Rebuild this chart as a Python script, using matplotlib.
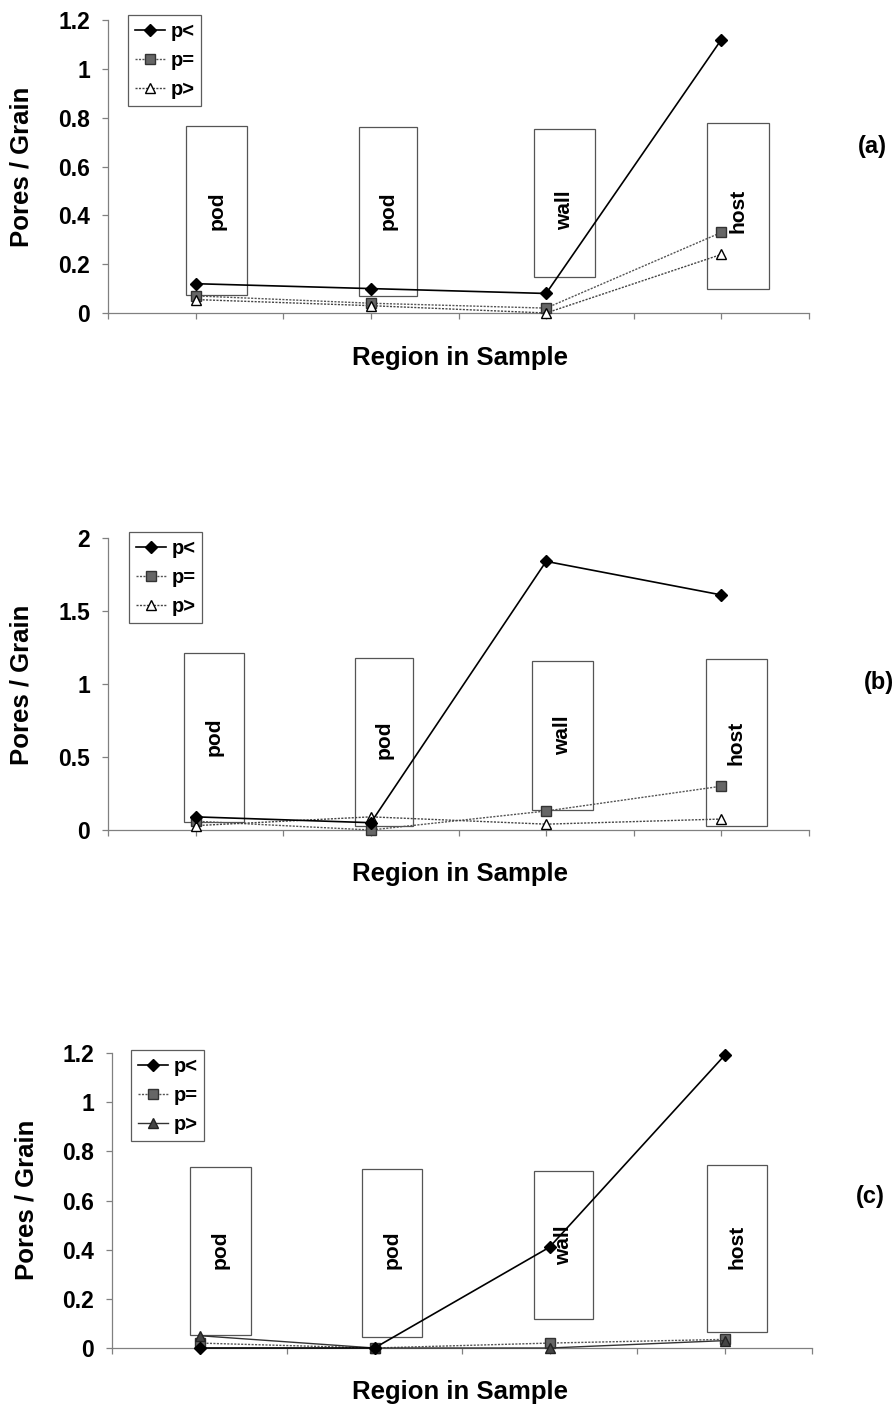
import matplotlib
matplotlib.use("Agg")
import matplotlib.pyplot as plt
from matplotlib.patches import Rectangle

plt.rcParams['font.family'] = ['Liberation Sans', 'DejaVu Sans']
plt.rcParams['font.weight'] = 'bold'

# ---- data ----
regions = ["pod", "pod", "wall", "host"]
series_labels = ["p<", "p=", "p>"]

a_lt = [0.12, 0.10, 0.08, 1.12]
a_eq = [0.07, 0.04, 0.02, 0.33]
a_gt = [0.055, 0.03, 0.0, 0.24]

b_lt = [0.09, 0.05, 1.84, 1.61]
b_eq = [0.06, 0.0, 0.13, 0.30]
b_gt = [0.03, 0.09, 0.04, 0.075]

c_lt = [0.0, 0.0, 0.41, 1.19]
c_eq = [0.02, 0.0, 0.02, 0.035]
c_gt = [0.05, 0.0, 0.0, 0.03]

a_ticks = [0, 0.2, 0.4, 0.6, 0.8, 1.0, 1.2]
a_ticklabels = ["0", "0.2", "0.4", "0.6", "0.8", "1", "1.2"]
b_ticks = [0, 0.5, 1.0, 1.5, 2.0]
b_ticklabels = ["0", "0.5", "1", "1.5", "2"]

# ---- layout / styling ----
W, H = 893, 1409
fig = plt.figure(figsize=(W / 100, H / 100), dpi=100)

def fx(px):
    return px / W

def fy(py):
    return 1 - py / H

panels = [
    dict(rect=(108, 20, 809, 313), data=(a_lt, a_eq, a_gt), ylim=1.2,
         ticks=a_ticks, tl=a_ticklabels, tag="(a)", tagpos=(872, 147),
         ylab=(22, 167), xlab=(460, 358), leg=(128, 15),
         boxes=[(0.446, 0.794, 0.074, 0.766), (1.43, 1.766, 0.07, 0.76),
                (2.43, 2.78, 0.148, 0.754), (3.42, 3.77, 0.098, 0.78)],
         texty=[0.42, 0.42, 0.42, 0.42], gt_open=True),
    dict(rect=(108, 538, 809, 830), data=(b_lt, b_eq, b_gt), ylim=2.0,
         ticks=b_ticks, tl=b_ticklabels, tag="(b)", tagpos=(879, 682),
         ylab=(22, 685), xlab=(460, 874), leg=(129, 532),
         boxes=[(0.434, 0.777, 0.055, 1.21), (1.41, 1.74, 0.03, 1.18),
                (2.42, 2.77, 0.14, 1.16), (3.41, 3.76, 0.03, 1.17)],
         texty=[0.64, 0.62, 0.65, 0.6], gt_open=True),
    dict(rect=(112, 1053, 812, 1348), data=(c_lt, c_eq, c_gt), ylim=1.2,
         ticks=a_ticks, tl=a_ticklabels, tag="(c)", tagpos=(870, 1197),
         ylab=(27, 1200), xlab=(460, 1392), leg=(131, 1050),
         boxes=[(0.446, 0.794, 0.053, 0.736), (1.43, 1.77, 0.045, 0.73),
                (2.41, 2.75, 0.118, 0.72), (3.40, 3.74, 0.065, 0.744)],
         texty=[0.40, 0.40, 0.42, 0.41], gt_open=False),
]

xpos = [0.5, 1.5, 2.5, 3.5]
spine_col = '#808080'

for p in panels:
    l, t, r, b = p['rect']
    ax = fig.add_axes([fx(l), fy(b), fx(r) - fx(l), fy(t) - fy(b)])
    ax.set_xlim(0, 4)
    ax.set_ylim(0, p['ylim'])
    for s in ['top', 'right']:
        ax.spines[s].set_visible(False)
    for s in ['left', 'bottom']:
        ax.spines[s].set_color(spine_col)
        ax.spines[s].set_linewidth(0.9)
    ax.set_xticks([0.5 * i for i in range(9)])
    ax.set_xticklabels([])
    ax.set_yticks(p['ticks'])
    ax.set_yticklabels(p['tl'], fontsize=16.5, fontweight='bold')
    ax.tick_params(axis='both', direction='out', length=4, width=0.9,
                   color=spine_col, pad=9)
    ax.patch.set_alpha(0)

    # region boxes
    for i, (x0, x1, y0, y1) in enumerate(p['boxes']):
        ax.add_patch(Rectangle((x0, y0), x1 - x0, y1 - y0, facecolor='white',
                               edgecolor='#555555', linewidth=0.9, zorder=1))
        ax.text((x0 + x1) / 2, p['texty'][i], regions[i], rotation=90,
                ha='center', va='center', fontsize=15, fontweight='bold',
                zorder=2)

    lt, eq, gt = p['data']
    h1, = ax.plot(xpos, lt, color='black', lw=1.2, marker='D', ms=6,
                  mfc='black', mec='black', zorder=5, clip_on=False)
    h2, = ax.plot(xpos, eq, color='#555555', lw=1.0, ls=(0, (1.5, 1)),
                  marker='s', ms=6.5, mfc='#666666', mec='#333333', zorder=4,
                  clip_on=False)
    if p['gt_open']:
        h3, = ax.plot(xpos, gt, color='#444444', lw=1.0, ls=(0, (1.5, 1)),
                      marker='^', ms=7.5, mfc='white', mec='black', mew=1.0,
                      zorder=4, clip_on=False)
    else:
        h3, = ax.plot(xpos, gt, color='#333333', lw=1.0,
                      marker='^', ms=6.5, mfc='#444444', mec='#222222',
                      zorder=4, clip_on=False)

    leg = ax.legend([h1, h2, h3], series_labels, loc='upper left',
                    bbox_to_anchor=(fx(p['leg'][0]), fy(p['leg'][1])),
                    bbox_transform=fig.transFigure, borderaxespad=0,
                    frameon=True, fancybox=False, edgecolor='#333333',
                    prop=dict(weight='bold', size=14.5), handlelength=1.5,
                    labelspacing=0.5, borderpad=0.35, handletextpad=0.25)
    leg.get_frame().set_linewidth(0.9)

    fig.text(fx(p['ylab'][0]), fy(p['ylab'][1]), "Pores / Grain",
             rotation=90, ha='center', va='center', fontsize=18.5,
             fontweight='bold')
    fig.text(fx(p['xlab'][0]), fy(p['xlab'][1]), "Region in Sample",
             ha='center', va='center', fontsize=18.5, fontweight='bold')
    fig.text(fx(p['tagpos'][0]), fy(p['tagpos'][1]), p['tag'],
             ha='center', va='center', fontsize=17, fontweight='bold')

fig.savefig("out.png", dpi=100, facecolor='white')
